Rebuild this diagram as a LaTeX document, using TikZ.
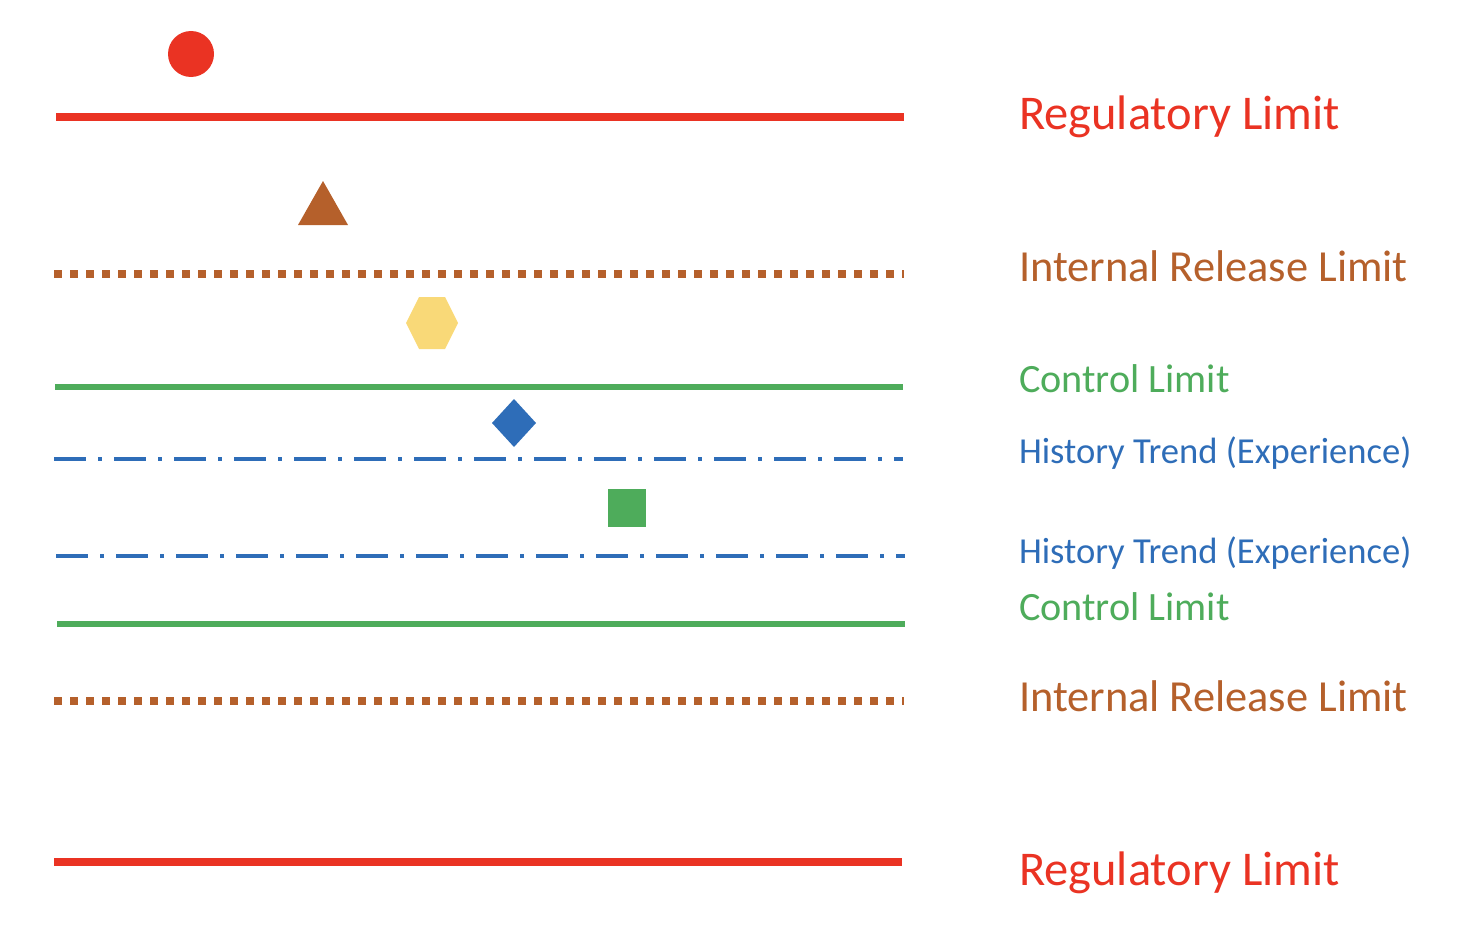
\documentclass[tikz,border=0pt]{standalone}
\usepackage{fontspec}
\setmainfont{Carlito}
\definecolor{regred}{HTML}{EA3323}
\definecolor{relbrown}{HTML}{B5602B}
\definecolor{ctlgreen}{HTML}{4EAC5B}
\definecolor{histblue}{HTML}{2E6DB8}
\definecolor{hexyellow}{HTML}{F9D978}
\begin{document}
\begin{tikzpicture}[x=1pt,y=-1pt,
  reglim/.style={draw=regred,line width=8pt},
  rellim/.style={draw=relbrown,line width=8pt,dash pattern=on 8pt off 8pt},
  ctllim/.style={draw=ctlgreen,line width=6pt},
  histlim/.style={draw=histblue,line width=4pt,dash pattern=on 32pt off 12pt on 4pt off 12pt},
  lab/.style={anchor=base west,inner sep=0pt,outer sep=0pt},
  bigl/.style={lab,font=\fontsize{48.5}{58}\selectfont},
  midl/.style={lab,font=\fontsize{44.4}{53}\selectfont},
  ctll/.style={lab,font=\fontsize{40.2}{48}\selectfont},
  smll/.style={lab,font=\fontsize{36.6}{44}\selectfont}]
\useasboundingbox (0,0) rectangle (1480,950);
% lines
\draw[reglim] (56,117) -- (904,117);
\draw[rellim] (54,274) -- (904,274);
\draw[ctllim] (55,387) -- (903,387);
\draw[histlim] (54,459) -- (903,459);
\draw[histlim] (56,556) -- (905,556);
\draw[ctllim] (57,624) -- (905,624);
\draw[rellim] (54,701) -- (904,701);
\draw[reglim] (54,862) -- (902,862);
% markers
\fill[regred] (191,54) circle (23);
\fill[relbrown] (323,181) -- (348,225) -- (298,225) -- cycle;
\fill[hexyellow] (406,323) -- (419,297) -- (445,297) -- (458,323) -- (445,349) -- (419,349) -- cycle;
\fill[histblue] (514,399) -- (536,423) -- (514,447) -- (492,423) -- cycle;
\fill[ctlgreen] (608,489) rectangle (646,527);
% labels
\node[bigl,text=regred] (t1) at (1019,129) {Regulatory Limit};
\node[midl,text=relbrown] (t2) at (1019,281) {Internal Release Limit};
\node[ctll,text=ctlgreen] (t3) at (1019,392) {Control Limit};
\node[smll,text=histblue] (t4) at (1019,463) {History Trend (Experience)};
\node[smll,text=histblue] (t5) at (1019,563) {History Trend (Experience)};
\node[ctll,text=ctlgreen] (t6) at (1019,620) {Control Limit};
\node[midl,text=relbrown] (t7) at (1019,711) {Internal Release Limit};
\node[bigl,text=regred] (t8) at (1019,885) {Regulatory Limit};
\end{tikzpicture}
\end{document}
